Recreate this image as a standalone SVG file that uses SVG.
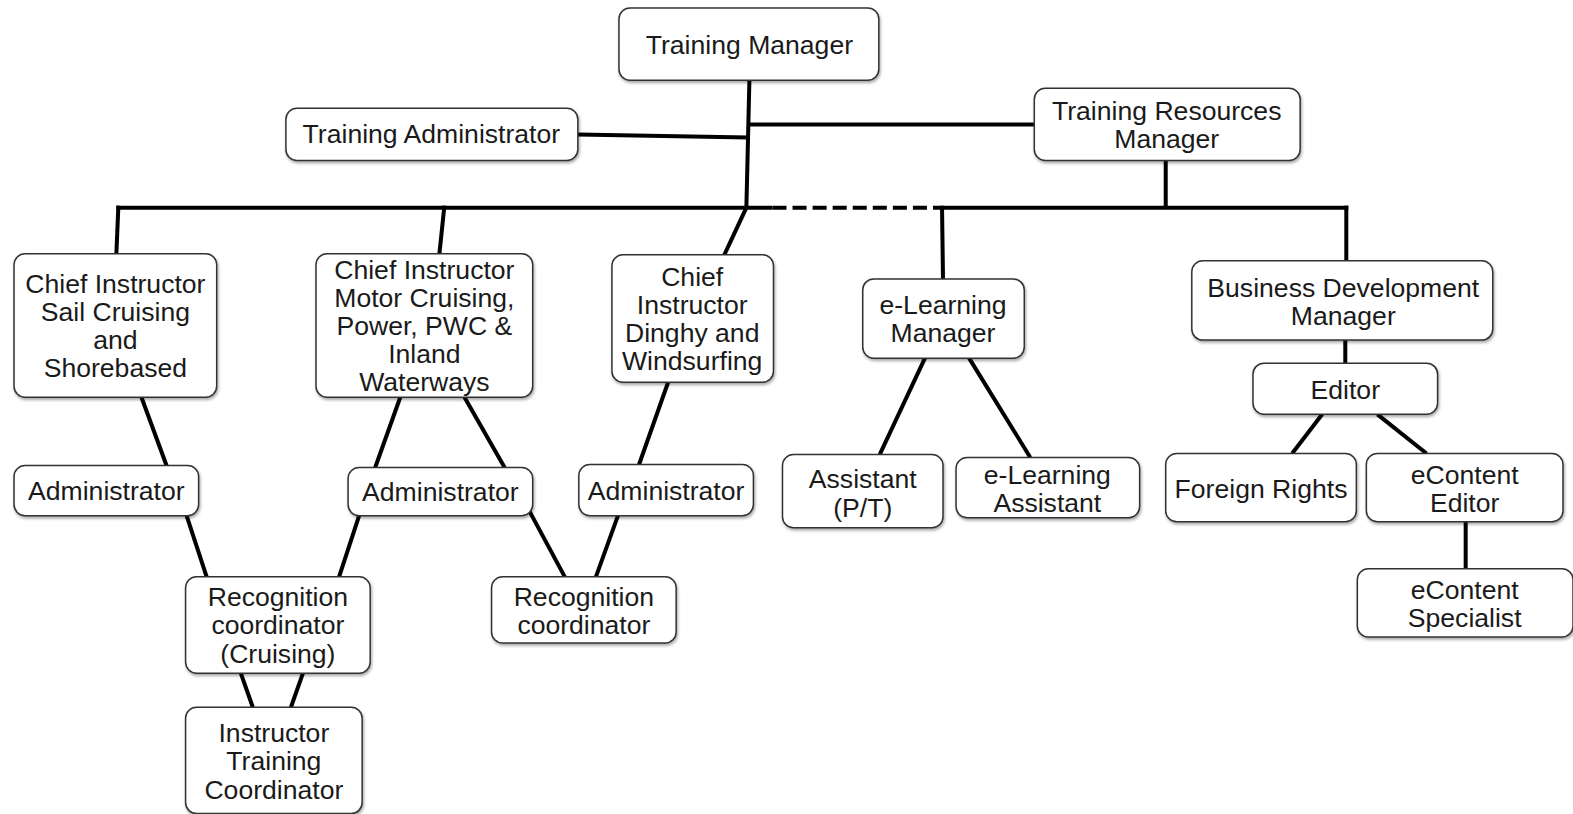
<svg xmlns="http://www.w3.org/2000/svg" width="1573" height="814" viewBox="0 0 1573 814">
<defs>
<filter id="sh" x="-10%" y="-10%" width="120%" height="130%">
<feDropShadow dx="1" dy="2" stdDeviation="1.5" flood-color="#000" flood-opacity="0.35"/>
</filter>
<style>
.box{fill:#fff;stroke:#333;stroke-width:1.5;filter:url(#sh)}
.t{font-family:"Liberation Sans",Arial,Helvetica,sans-serif;font-size:26.5px;fill:#1a1a1a;text-anchor:middle}
.c{stroke:#000;stroke-width:4;fill:none}
.d{stroke:#000;stroke-width:4;fill:none;stroke-dasharray:14 6}
</style>
</defs>
<rect width="1573" height="814" fill="#fff"/>
<g transform="scale(1.0032)">
<g id="connectors">
<path class="c" d="M747 80 L744 207"/>
<path class="c" d="M576 134 L746 137"/>
<path class="c" d="M747 124 L1031 124"/>
<path class="c" d="M1162 160 L1162 207"/>
<path class="c" d="M116 207 L770 207"/>
<path class="d" d="M770 207 L935 207"/>
<path class="c" d="M935 207 L1344 207"/>
<path class="c" d="M118 205 L116 253"/>
<path class="c" d="M443 205 L438 253"/>
<path class="c" d="M744 207 L722 254"/>
<path class="c" d="M939 205 L940 278"/>
<path class="c" d="M1342 205 L1342 260"/>
<path class="c" d="M141 396 L166 464"/>
<path class="c" d="M186 514 L206 575"/>
<path class="c" d="M399 396 L374 466"/>
<path class="c" d="M463 396 L503 466"/>
<path class="c" d="M358 514 L338 575"/>
<path class="c" d="M528 510 L563 575"/>
<path class="c" d="M666 381 L637 463"/>
<path class="c" d="M616 514 L594 575"/>
<path class="c" d="M240 671 L252 705"/>
<path class="c" d="M302 671 L290 705"/>
<path class="c" d="M922 357 L877 453"/>
<path class="c" d="M966 357 L1027 456"/>
<path class="c" d="M1341 339 L1341 362"/>
<path class="c" d="M1318 413 L1288 452"/>
<path class="c" d="M1373 413 L1422 452"/>
<path class="c" d="M1461 520 L1461 567"/>
</g>
<g id="training-manager"><rect class="box" x="617" y="8" width="259" height="72" rx="11"/><text class="t" x="747" y="54">Training Manager</text></g>
<g id="training-administrator"><rect class="box" x="285" y="108" width="291" height="52" rx="11"/><text class="t" x="430" y="143">Training Administrator</text></g>
<g id="training-resources-manager"><rect class="box" x="1031" y="88" width="265" height="72" rx="11"/><text class="t" x="1163" y="120">Training Resources<tspan x="1163" y="148">Manager</tspan></text></g>
<g id="chief-sail"><rect class="box" x="14" y="253" width="202" height="143" rx="11"/><text class="t" x="115" y="292">Chief Instructor<tspan x="115" y="320">Sail Cruising</tspan><tspan x="115" y="348">and</tspan><tspan x="115" y="376">Shorebased</tspan></text></g>
<g id="chief-motor"><rect class="box" x="315" y="253" width="216" height="143" rx="11"/><text class="t" x="423" y="278">Chief Instructor<tspan x="423" y="306">Motor Cruising,</tspan><tspan x="423" y="334">Power, PWC &amp;</tspan><tspan x="423" y="362">Inland</tspan><tspan x="423" y="390">Waterways</tspan></text></g>
<g id="chief-dinghy"><rect class="box" x="610" y="254" width="161" height="127" rx="11"/><text class="t" x="690" y="285">Chief<tspan x="690" y="313">Instructor</tspan><tspan x="690" y="341">Dinghy and</tspan><tspan x="690" y="369">Windsurfing</tspan></text></g>
<g id="elearning-manager"><rect class="box" x="860" y="278" width="161" height="79" rx="11"/><text class="t" x="940" y="313">e-Learning<tspan x="940" y="341">Manager</tspan></text></g>
<g id="business-development-manager"><rect class="box" x="1188" y="260" width="300" height="79" rx="11"/><text class="t" x="1339" y="296">Business Development<tspan x="1339" y="324">Manager</tspan></text></g>
<g id="editor"><rect class="box" x="1249" y="362" width="184" height="51" rx="11"/><text class="t" x="1341" y="398">Editor</text></g>
<g id="foreign-rights"><rect class="box" x="1162" y="452" width="190" height="68" rx="11"/><text class="t" x="1257" y="496">Foreign Rights</text></g>
<g id="econtent-editor"><rect class="box" x="1362" y="452" width="196" height="68" rx="11"/><text class="t" x="1460" y="482">eContent<tspan x="1460" y="510">Editor</tspan></text></g>
<g id="econtent-specialist"><rect class="box" x="1353" y="567" width="215" height="68" rx="11"/><text class="t" x="1460" y="597">eContent<tspan x="1460" y="625">Specialist</tspan></text></g>
<g id="assistant-pt"><rect class="box" x="780" y="453" width="160" height="73" rx="11"/><text class="t" x="860" y="486">Assistant<tspan x="860" y="515">(P/T)</tspan></text></g>
<g id="elearning-assistant"><rect class="box" x="953" y="456" width="183" height="60" rx="11"/><text class="t" x="1044" y="482">e-Learning<tspan x="1044" y="510">Assistant</tspan></text></g>
<g id="admin-sail"><rect class="box" x="14" y="464" width="184" height="50" rx="11"/><text class="t" x="106" y="498">Administrator</text></g>
<g id="admin-motor"><rect class="box" x="347" y="466" width="184" height="48" rx="11"/><text class="t" x="439" y="499">Administrator</text></g>
<g id="admin-dinghy"><rect class="box" x="577" y="463" width="174" height="51" rx="11"/><text class="t" x="664" y="498">Administrator</text></g>
<g id="recognition-cruising"><rect class="box" x="185" y="575" width="184" height="96" rx="11"/><text class="t" x="277" y="604">Recognition<tspan x="277" y="632">coordinator</tspan><tspan x="277" y="661">(Cruising)</tspan></text></g>
<g id="recognition-coordinator"><rect class="box" x="490" y="575" width="184" height="66" rx="11"/><text class="t" x="582" y="604">Recognition<tspan x="582" y="632">coordinator</tspan></text></g>
<g id="instructor-training-coordinator"><rect class="box" x="185" y="705" width="176" height="106" rx="11"/><text class="t" x="273" y="740">Instructor<tspan x="273" y="768">Training</tspan><tspan x="273" y="796">Coordinator</tspan></text></g>
</g>
</svg>
